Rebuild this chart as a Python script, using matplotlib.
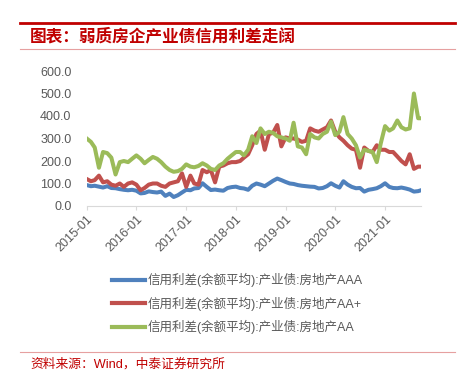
import matplotlib
matplotlib.use("Agg")
import matplotlib.pyplot as plt
import matplotlib.dates as mdates
from matplotlib.lines import Line2D
import pandas as pd

# monthly readings, 2015-01 .. 2021-09, plus last point late Sept 2021
dates = list(pd.date_range("2015-01-01", "2021-09-01", freq="MS")) + [pd.Timestamp("2021-09-22")]

aaa = [93, 88, 90, 86, 82, 88, 80, 79, 75, 72, 70, 72,
       68, 56, 58, 65, 62, 60, 64, 45, 55, 40, 48, 60,
       72, 70, 78, 80, 101, 85, 71, 73, 70, 68, 80, 84,
       86, 80, 78, 72, 90, 100, 95, 88, 100, 112, 122, 115,
       107, 100, 98, 93, 90, 88, 86, 85, 78, 80, 88, 101,
       90, 82, 110, 95, 85, 79, 80, 64, 72, 75, 79, 88,
       101, 85, 80, 79, 82, 78, 73, 64, 66, 70]

aa_plus = [120, 110, 115, 135, 105, 110, 95, 90, 100, 85, 100, 105,
           95, 70, 80, 95, 100, 100, 90, 85, 100, 105, 110, 145,
           85, 135, 100, 95, 160, 150, 160, 105, 175, 180, 190, 195,
           195, 200, 215, 230, 270, 320, 335, 250, 320, 325, 360, 265,
           305, 300, 300, 295, 285, 290, 345, 335, 330, 340, 350, 380,
           330, 305, 290, 270, 255, 250, 170, 260, 245, 240, 270, 250,
           250, 240, 240, 220, 200, 185, 230, 165, 175, 175]

aa = [300, 285, 260, 170, 240, 235, 215, 140, 195, 200, 195, 210,
      225, 210, 190, 205, 218, 210, 195, 175, 160, 152, 155, 165,
      185, 175, 172, 178, 190, 180, 165, 160, 180, 190, 210, 225,
      240, 240, 225, 250, 310, 280, 345, 320, 330, 325, 310, 305,
      300, 290, 370, 265, 260, 230, 320, 305, 300, 320, 330, 375,
      315, 330, 395, 320, 300, 270, 215, 250, 245, 240, 195, 280,
      355, 335, 345, 380, 350, 340, 345, 500, 390, 390]

labels = ["信用利差(余额平均):产业债:房地产AAA",
          "信用利差(余额平均):产业债:房地产AA+",
          "信用利差(余额平均):产业债:房地产AA"]
colors = ["#4F81BD", "#C0504D", "#9BBB59"]

fam = ["Liberation Sans", "Noto Sans CJK SC", "DejaVu Sans"]
plt.rcParams["font.family"] = fam

fig = plt.figure(figsize=(4.63, 3.73), dpi=100)
ax = fig.add_axes([86.7 / 463, 1 - 206 / 373, (421 - 86.7) / 463, (206 - 71) / 373])

for ys, c in zip([aaa, aa_plus, aa], colors):
    ax.plot(dates, ys, color=c, lw=2.9, solid_joinstyle="round")

ax.set_ylim(0, 600)
ax.set_yticks(range(0, 601, 100))
ax.set_yticklabels([f"{v:.1f}" for v in range(0, 601, 100)])
ax.set_xlim(dates[0], dates[-1])
ax.xaxis.set_major_locator(mdates.YearLocator())
ax.xaxis.set_major_formatter(mdates.DateFormatter("%Y-%m"))

for s in ["top", "right", "left"]:
    ax.spines[s].set_visible(False)
ax.spines["bottom"].set_color("#D9D9D9")
ax.tick_params(axis="y", length=0, labelsize=9, labelcolor="#595959", pad=11)
ax.tick_params(axis="x", length=3, color="#D9D9D9", labelsize=9, labelcolor="#595959", pad=2)
for t in ax.get_xticklabels():
    t.set_rotation(45)
    t.set_ha("right")
    t.set_rotation_mode("anchor")

handles = [Line2D([], [], color=c, lw=3) for c in colors]
fig.legend(handles, labels, loc="upper left", bbox_to_anchor=(112 / 463, 1 - 273 / 373),
           frameon=False, fontsize=9, handlelength=2.6, handletextpad=0.25,
           labelspacing=0.75, labelcolor="#595959", borderpad=0, borderaxespad=0)

# header and footer decoration
fig.add_artist(Line2D([20 / 463, 455 / 463], [1 - 22.5 / 373] * 2, color="#C00000", lw=2))
fig.add_artist(Line2D([20 / 463, 455 / 463], [1 - 49 / 373] * 2, color="#E6A0A0", lw=0.8))
fig.add_artist(Line2D([20 / 463, 455 / 463], [1 - 352 / 373] * 2, color="#E6A0A0", lw=0.8))
fig.text(30 / 463, 1 - 36.5 / 373, "图表：弱质房企产业债信用利差走阔", color="#C00000",
         fontsize=12, fontweight="bold", fontstyle="italic", va="center", ha="left")
fig.text(30 / 463, 1 - 364 / 373, "资料来源：Wind，中泰证券研究所", color="#C00000",
         fontsize=9.2, va="center", ha="left")

fig.savefig("out.png", dpi=100)
